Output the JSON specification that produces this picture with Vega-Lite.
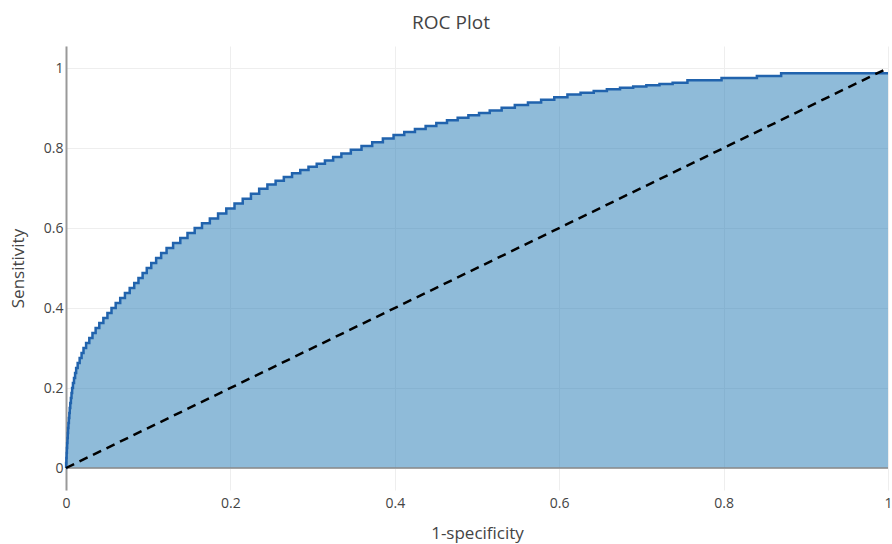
{
  "$schema": "https://vega.github.io/schema/vega-lite/v6.json",
  "width": 822,
  "height": 444,
  "autosize": {"type": "none"},
  "padding": {"left": 66, "top": 46, "right": 4, "bottom": 54},
  "background": "white",
  "title": {"text": "ROC Plot", "font": "Open Sans", "fontSize": 19, "fontWeight": "normal", "color": "#444", "anchor": "middle", "dx": -26, "offset": 13},
  "config": {
    "view": {"stroke": null},
    "axis": {"labelFont": "Open Sans", "labelFontSize": 14, "labelColor": "#444", "titleFont": "Open Sans", "titleFontSize": 17, "titleFontWeight": "normal", "titleColor": "#444", "gridColor": "#eee", "gridWidth": 1, "ticks": false}
  },
  "datasets": {
    "roc": [
      {"fpr": 0, "tpr": 0}, {"fpr": 0.0003, "tpr": 0.0125}, {"fpr": 0.0006, "tpr": 0.025}, {"fpr": 0.0009, "tpr": 0.0375},
      {"fpr": 0.0012, "tpr": 0.05}, {"fpr": 0.0016, "tpr": 0.0625}, {"fpr": 0.002, "tpr": 0.075}, {"fpr": 0.0023, "tpr": 0.0875},
      {"fpr": 0.0027, "tpr": 0.1}, {"fpr": 0.0032, "tpr": 0.1125}, {"fpr": 0.0038, "tpr": 0.125}, {"fpr": 0.0043, "tpr": 0.1375},
      {"fpr": 0.0048, "tpr": 0.15}, {"fpr": 0.0056, "tpr": 0.1625}, {"fpr": 0.0063, "tpr": 0.175}, {"fpr": 0.0071, "tpr": 0.1875},
      {"fpr": 0.0078, "tpr": 0.2}, {"fpr": 0.0091, "tpr": 0.2125}, {"fpr": 0.0104, "tpr": 0.225}, {"fpr": 0.0117, "tpr": 0.2375},
      {"fpr": 0.013, "tpr": 0.25}, {"fpr": 0.0154, "tpr": 0.2625}, {"fpr": 0.0178, "tpr": 0.275}, {"fpr": 0.0201, "tpr": 0.2875},
      {"fpr": 0.0225, "tpr": 0.3}, {"fpr": 0.0264, "tpr": 0.3125}, {"fpr": 0.0303, "tpr": 0.325}, {"fpr": 0.0341, "tpr": 0.3375},
      {"fpr": 0.038, "tpr": 0.35}, {"fpr": 0.043, "tpr": 0.3625}, {"fpr": 0.0479, "tpr": 0.375}, {"fpr": 0.0529, "tpr": 0.3875},
      {"fpr": 0.0578, "tpr": 0.4}, {"fpr": 0.0631, "tpr": 0.4125}, {"fpr": 0.0688, "tpr": 0.425}, {"fpr": 0.0746, "tpr": 0.4375},
      {"fpr": 0.0804, "tpr": 0.45}, {"fpr": 0.0856, "tpr": 0.4625}, {"fpr": 0.0907, "tpr": 0.475}, {"fpr": 0.0957, "tpr": 0.4875},
      {"fpr": 0.1008, "tpr": 0.5}, {"fpr": 0.1066, "tpr": 0.5125}, {"fpr": 0.1127, "tpr": 0.525}, {"fpr": 0.1188, "tpr": 0.5375},
      {"fpr": 0.1259, "tpr": 0.55}, {"fpr": 0.1347, "tpr": 0.5625}, {"fpr": 0.1434, "tpr": 0.575}, {"fpr": 0.1522, "tpr": 0.5875},
      {"fpr": 0.1609, "tpr": 0.6}, {"fpr": 0.17, "tpr": 0.6116}, {"fpr": 0.18, "tpr": 0.624}, {"fpr": 0.19, "tpr": 0.6363},
      {"fpr": 0.2, "tpr": 0.6487}, {"fpr": 0.21, "tpr": 0.661}, {"fpr": 0.22, "tpr": 0.6734}, {"fpr": 0.23, "tpr": 0.6857},
      {"fpr": 0.24, "tpr": 0.6981}, {"fpr": 0.25, "tpr": 0.7086}, {"fpr": 0.26, "tpr": 0.718}, {"fpr": 0.27, "tpr": 0.7273},
      {"fpr": 0.28, "tpr": 0.7366}, {"fpr": 0.29, "tpr": 0.7451}, {"fpr": 0.3, "tpr": 0.7529}, {"fpr": 0.31, "tpr": 0.7606},
      {"fpr": 0.32, "tpr": 0.7686}, {"fpr": 0.33, "tpr": 0.7774}, {"fpr": 0.34, "tpr": 0.7861}, {"fpr": 0.353, "tpr": 0.7957},
      {"fpr": 0.366, "tpr": 0.8051}, {"fpr": 0.379, "tpr": 0.8144}, {"fpr": 0.392, "tpr": 0.8238}, {"fpr": 0.405, "tpr": 0.8327},
      {"fpr": 0.418, "tpr": 0.8402}, {"fpr": 0.431, "tpr": 0.8476}, {"fpr": 0.444, "tpr": 0.8551}, {"fpr": 0.457, "tpr": 0.8626},
      {"fpr": 0.47, "tpr": 0.8693}, {"fpr": 0.483, "tpr": 0.8755}, {"fpr": 0.496, "tpr": 0.8816}, {"fpr": 0.509, "tpr": 0.8878},
      {"fpr": 0.522, "tpr": 0.8938}, {"fpr": 0.538, "tpr": 0.9005}, {"fpr": 0.554, "tpr": 0.9072}, {"fpr": 0.57, "tpr": 0.9138},
      {"fpr": 0.586, "tpr": 0.9204}, {"fpr": 0.602, "tpr": 0.9271}, {"fpr": 0.618, "tpr": 0.9337}, {"fpr": 0.634, "tpr": 0.9384},
      {"fpr": 0.65, "tpr": 0.9426}, {"fpr": 0.666, "tpr": 0.9468}, {"fpr": 0.682, "tpr": 0.9508}, {"fpr": 0.698, "tpr": 0.9539},
      {"fpr": 0.714, "tpr": 0.957}, {"fpr": 0.73, "tpr": 0.9601}, {"fpr": 0.746, "tpr": 0.9633}, {"fpr": 0.766, "tpr": 0.9695},
      {"fpr": 0.829, "tpr": 0.975}, {"fpr": 0.852, "tpr": 0.98}, {"fpr": 0.888, "tpr": 0.987}, {"fpr": 1, "tpr": 0.987}
    ],
    "diag": [{"fpr": 0, "tpr": 0}, {"fpr": 1, "tpr": 1}],
    "zero": [{"v": 0}]
  },
  "layer": [
    {
      "data": {"name": "roc"},
      "mark": {"type": "area", "interpolate": "step", "color": "#1f77b4", "opacity": 0.5},
      "encoding": {
        "x": {"field": "fpr", "type": "quantitative", "scale": {"domain": [0, 1], "nice": false, "zero": false},
          "axis": {"title": "1-specificity", "values": [0, 0.2, 0.4, 0.6, 0.8, 1], "format": "~g", "domain": false, "grid": true, "labelPadding": 6, "titlePadding": 15, "labelFlush": false}},
        "y": {"field": "tpr", "type": "quantitative", "scale": {"domain": [-0.055, 1.055], "nice": false, "zero": false},
          "axis": {"title": "Sensitivity", "values": [0, 0.2, 0.4, 0.6, 0.8, 1], "format": "~g", "domain": true, "domainColor": "#999", "domainWidth": 2, "grid": true, "labelPadding": 3, "titlePadding": 16}}
      }
    },
    {
      "data": {"name": "zero"},
      "mark": {"type": "rule", "color": "#888", "strokeWidth": 1.5},
      "encoding": {"y": {"field": "v", "type": "quantitative"}}
    },
    {
      "data": {"name": "roc"},
      "mark": {"type": "line", "interpolate": "step", "color": "#2163ad", "strokeWidth": 2.5},
      "encoding": {
        "x": {"field": "fpr", "type": "quantitative"},
        "y": {"field": "tpr", "type": "quantitative"}
      }
    },
    {
      "data": {"name": "diag"},
      "mark": {"type": "line", "color": "#000000", "strokeWidth": 2.5, "strokeDash": [9, 6]},
      "encoding": {
        "x": {"field": "fpr", "type": "quantitative"},
        "y": {"field": "tpr", "type": "quantitative"}
      }
    }
  ]
}
